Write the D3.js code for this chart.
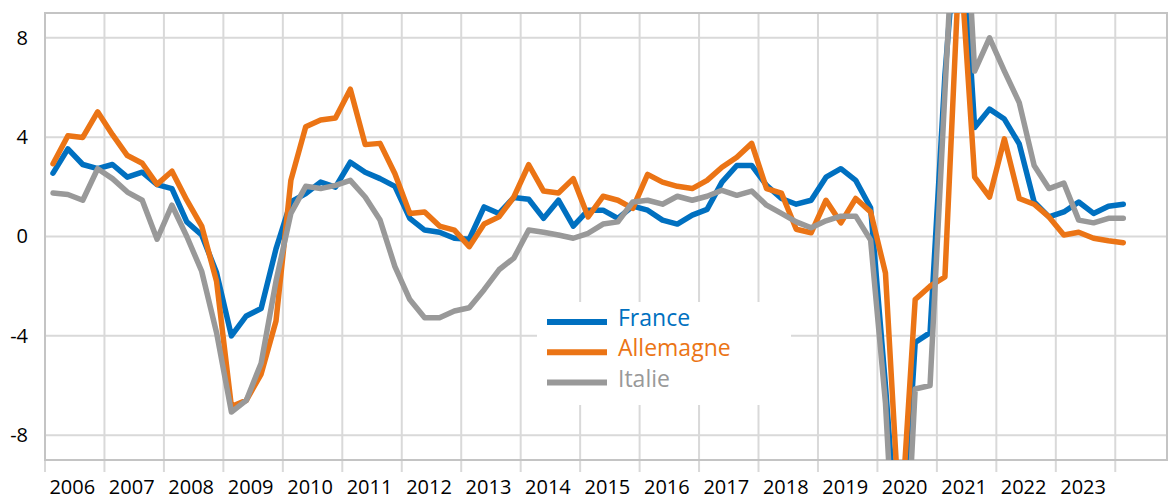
<!DOCTYPE html>
<html lang="fr">

<head>
    <meta charset="UTF-8">
    <title>France, Allemagne, Italie</title>
    <script src="https://cdn.jsdelivr.net/npm/d3@7"></script>
    <style type="text/css">
        html,
        body {
            margin: 0;
            padding: 0;
            background: white;
        }

        svg text {
            font-family: "Open Sans", sans-serif;
        }

        .axis text {
            font-size: 20px;
            fill: #000;
        }

        .grid line {
            stroke: #d9d9d9;
            stroke-width: 2px;
        }

        .frame {
            fill: none;
            stroke: #c4c4c4;
            stroke-width: 2px;
        }

        .serie {
            fill: none;
            stroke-width: 5.5px;
            stroke-linejoin: round;
            stroke-linecap: round;
        }

        .legend text {
            font-size: 23px;
        }
    </style>
</head>

<body>
    <svg id="chart" width="1171" height="500"></svg>
</body>
<script>
    // quarterly data, 2006 T1 -> 2024 T1
    var startYear = 2006;
    var years = [2006, 2007, 2008, 2009, 2010, 2011, 2012, 2013, 2014, 2015,
        2016, 2017, 2018, 2019, 2020, 2021, 2022, 2023];
    var yTicks = [-8, -4, 0, 4, 8];

    var france = [2.55, 3.53, 2.9, 2.73, 2.9, 2.39, 2.59, 2.09, 1.93, 0.59, 0.06, -1.45,
        -4.0, -3.2, -2.9, -0.5, 1.39, 1.73, 2.19, 1.99, 2.99, 2.59, 2.33, 2.02,
        0.73, 0.26, 0.17, -0.07, -0.11, 1.19, 0.93, 1.57, 1.5, 0.73, 1.46, 0.42,
        1.06, 1.06, 0.73, 1.22, 1.06, 0.66, 0.5, 0.86, 1.09, 2.19, 2.86, 2.86,
        2.06, 1.53, 1.3, 1.46, 2.39, 2.73, 2.26, 1.16, -6.0, -14, -4.27, -3.87,
        6.5, 14, 4.39, 5.13, 4.73, 3.73, 1.39, 0.79, 0.99, 1.39, 0.93, 1.22, 1.3];

    var allemagne = [2.93, 4.06, 3.99, 5.02, 4.1, 3.26, 2.95, 2.1, 2.63, 1.46, 0.42, -1.8,
        -6.85, -6.6, -5.54, -3.4, 2.26, 4.42, 4.69, 4.77, 5.93, 3.7, 3.75, 2.53,
        0.93, 0.99, 0.42, 0.26, -0.41, 0.5, 0.79, 1.59, 2.89, 1.83, 1.75, 2.33,
        0.79, 1.62, 1.46, 1.13, 2.5, 2.19, 2.02, 1.93, 2.26, 2.79, 3.19, 3.75,
        1.93, 1.75, 0.29, 0.15, 1.46, 0.55, 1.53, 0.99, -1.47, -12, -2.54, -2.0,
        -1.63, 11.5, 2.39, 1.59, 3.93, 1.53, 1.3, 0.79, 0.06, 0.17, -0.07, -0.17, -0.25];

    var italie = [1.75, 1.69, 1.46, 2.73, 2.33, 1.79, 1.46, -0.11, 1.26, 0.0, -1.4, -3.87,
        -7.07, -6.6, -5.1, -1.8, 0.93, 2.02, 1.93, 2.06, 2.26, 1.59, 0.66, -1.21,
        -2.54, -3.27, -3.27, -3.0, -2.87, -2.14, -1.34, -0.87, 0.26, 0.17, 0.06, -0.07,
        0.13, 0.5, 0.59, 1.39, 1.46, 1.3, 1.62, 1.46, 1.62, 1.86, 1.66, 1.83,
        1.26, 0.93, 0.59, 0.35, 0.63, 0.82, 0.82, -0.14, -6.7, -17.7, -6.14, -6.0,
        5.8, 17.5, 6.66, 8.0, 6.66, 5.39, 2.86, 1.93, 2.15, 0.66, 0.55, 0.73, 0.73];

    var pays = ["France", "Allemagne", "Italie"];
    var couleurs = ["#0070c0", "#eb7415", "#999999"];

    // category position of each quarter (year + fraction)
    var quarters = france.map((d, i) => startYear + i / 4 + 0.135);

    var svg = d3.select("#chart"),
        margin = {
            top: 13,
            right: 4,
            bottom: 40,
            left: 45
        },
        width = +svg.attr("width") - margin.left - margin.right,
        height = +svg.attr("height") - margin.top - margin.bottom;

    var x = d3.scaleLinear().domain([2006, 2024.87]).range([0, width]),
        y = d3.scaleLinear().domain([-9, 9]).range([height, 0]);

    var g = svg.append("g")
        .attr("transform", "translate(" + margin.left + "," + margin.top + ")");

    // grid
    g.append("g")
        .attr("class", "grid")
        .selectAll("line.h")
        .data(yTicks)
        .enter().append("line")
        .attr("x1", 0)
        .attr("x2", width)
        .attr("y1", d => y(d))
        .attr("y2", d => y(d));

    g.append("g")
        .attr("class", "grid")
        .selectAll("line.v")
        .data(years.concat([2024]))
        .enter().append("line")
        .attr("x1", d => x(d))
        .attr("x2", d => x(d))
        .attr("y1", 0)
        .attr("y2", height + 12);

    g.append("rect")
        .attr("class", "frame")
        .attr("width", width)
        .attr("height", height);

    // x axis (year labels in the middle of each year)
    var xAxis = d3.axisBottom(x)
        .tickValues(years.map(d => d + 0.45))
        .tickFormat(d => Math.floor(d))
        .tickSize(0)
        .tickPadding(20);

    g.append("g")
        .attr("class", "axis axis--x")
        .attr("transform", "translate(0," + height + ")")
        .call(xAxis)
        .call(a => a.select(".domain").remove());

    // plain hyphen for negatives, as in the original
    g.append("g")
        .attr("class", "axis axis--y")
        .call(d3.axisLeft(y).tickValues(yTicks).tickFormat(d => String(d)).tickSize(0).tickPadding(17))
        .call(a => a.select(".domain").remove());

    // lines
    svg.append("defs").append("clipPath")
        .attr("id", "clip")
        .append("rect")
        .attr("width", width)
        .attr("height", height);

    var line = d3.line()
        .x((d, i) => x(quarters[i]))
        .y(d => y(d));

    var series = [france, allemagne, italie];

    g.append("g")
        .attr("clip-path", "url(#clip)")
        .selectAll("path")
        .data(series)
        .enter().append("path")
        .attr("class", "serie")
        .attr("stroke", (d, i) => couleurs[i])
        .attr("d", line);

    // legend
    var legend = svg.append("g")
        .attr("class", "legend")
        .attr("transform", "translate(537,302)");

    legend.append("rect")
        .attr("width", 254)
        .attr("height", 103)
        .attr("fill", "white");

    var item = legend.selectAll("g.item")
        .data(pays)
        .enter().append("g")
        .attr("class", "item")
        .attr("transform", (d, i) => "translate(0," + (20 + i * 30.3) + ")");

    item.append("line")
        .attr("x1", 10)
        .attr("x2", 70)
        .attr("stroke", (d, i) => couleurs[i])
        .attr("stroke-width", 6);

    item.append("text")
        .attr("x", 81)
        .attr("y", 4)
        .attr("fill", (d, i) => couleurs[i])
        .text(d => d);
</script>

</html>
